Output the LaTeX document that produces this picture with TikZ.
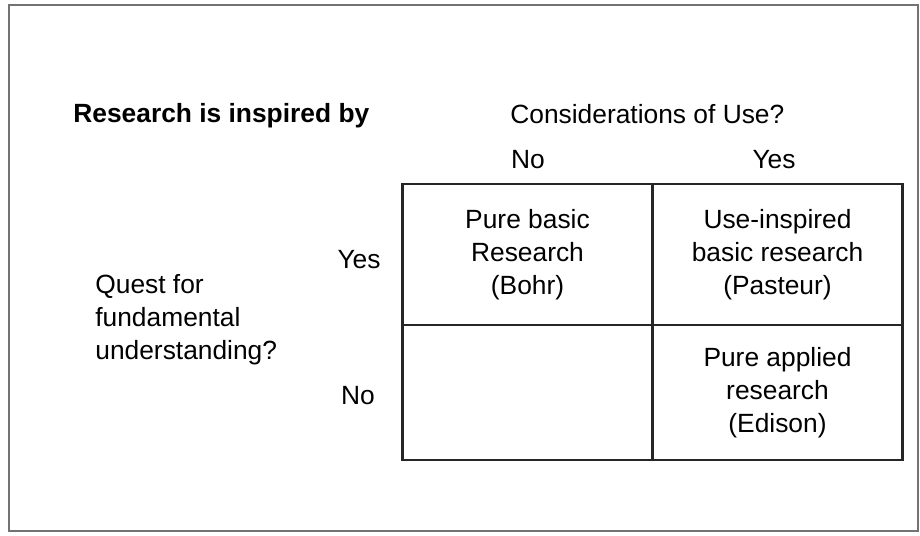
\documentclass[tikz,border=0pt]{standalone}
\usepackage{fontspec}
\setmainfont{Liberation Sans}
\usepackage{tikz}

\begin{document}
\begin{tikzpicture}[]
\tikzstyle{txt}=[font=\fontsize{15}{18.7}\selectfont,inner sep=0pt]
\tikzstyle{cell}=[txt,draw,line width=1.5pt,draw=black!85,outer sep=0pt,minimum width=5cm,align=center]
\tikzstyle{frame}=[line width=1.5pt,draw=black!55]

\useasboundingbox (0,0) rectangle (18.4,-10.7);
\draw[frame] (0.18,-0.1) rectangle (18.36,-10.62);

\node (inspired) [txt, anchor=west, font=\fontsize{15}{18.7}\selectfont\bfseries] at (1.46,-2.32) {Research is inspired by};
\node (use) [txt, anchor=west] at (10.2,-2.28) {Considerations of Use?};

% the four cells
\node (TL) [cell, minimum height=2.82cm] at (10.55,-5.09) {Pure basic\\Research\\(Bohr)};
\node (TR) [cell, minimum height=2.82cm] at (15.55,-5.09) {Use-inspired\\basic research\\(Pasteur)};
\node (BL) [cell, minimum height=2.7cm] at (10.55,-7.85) {};
\node (BR) [cell, minimum height=2.7cm] at (15.55,-7.85) {Pure applied\\research\\(Edison)};

\node (useno)  [txt] at (10.56,-3.2) {No};
\node (useyes) [txt] at (15.48,-3.2) {Yes};

\node (questyes) [txt] at (7.18,-5.2) {Yes};
\node (questno)  [txt] at (7.16,-7.92) {No};
\node (quest) [txt, anchor=west, align=left] at (1.9,-6.4) {Quest for\\fundamental\\understanding?};

\end{tikzpicture}
\end{document}
